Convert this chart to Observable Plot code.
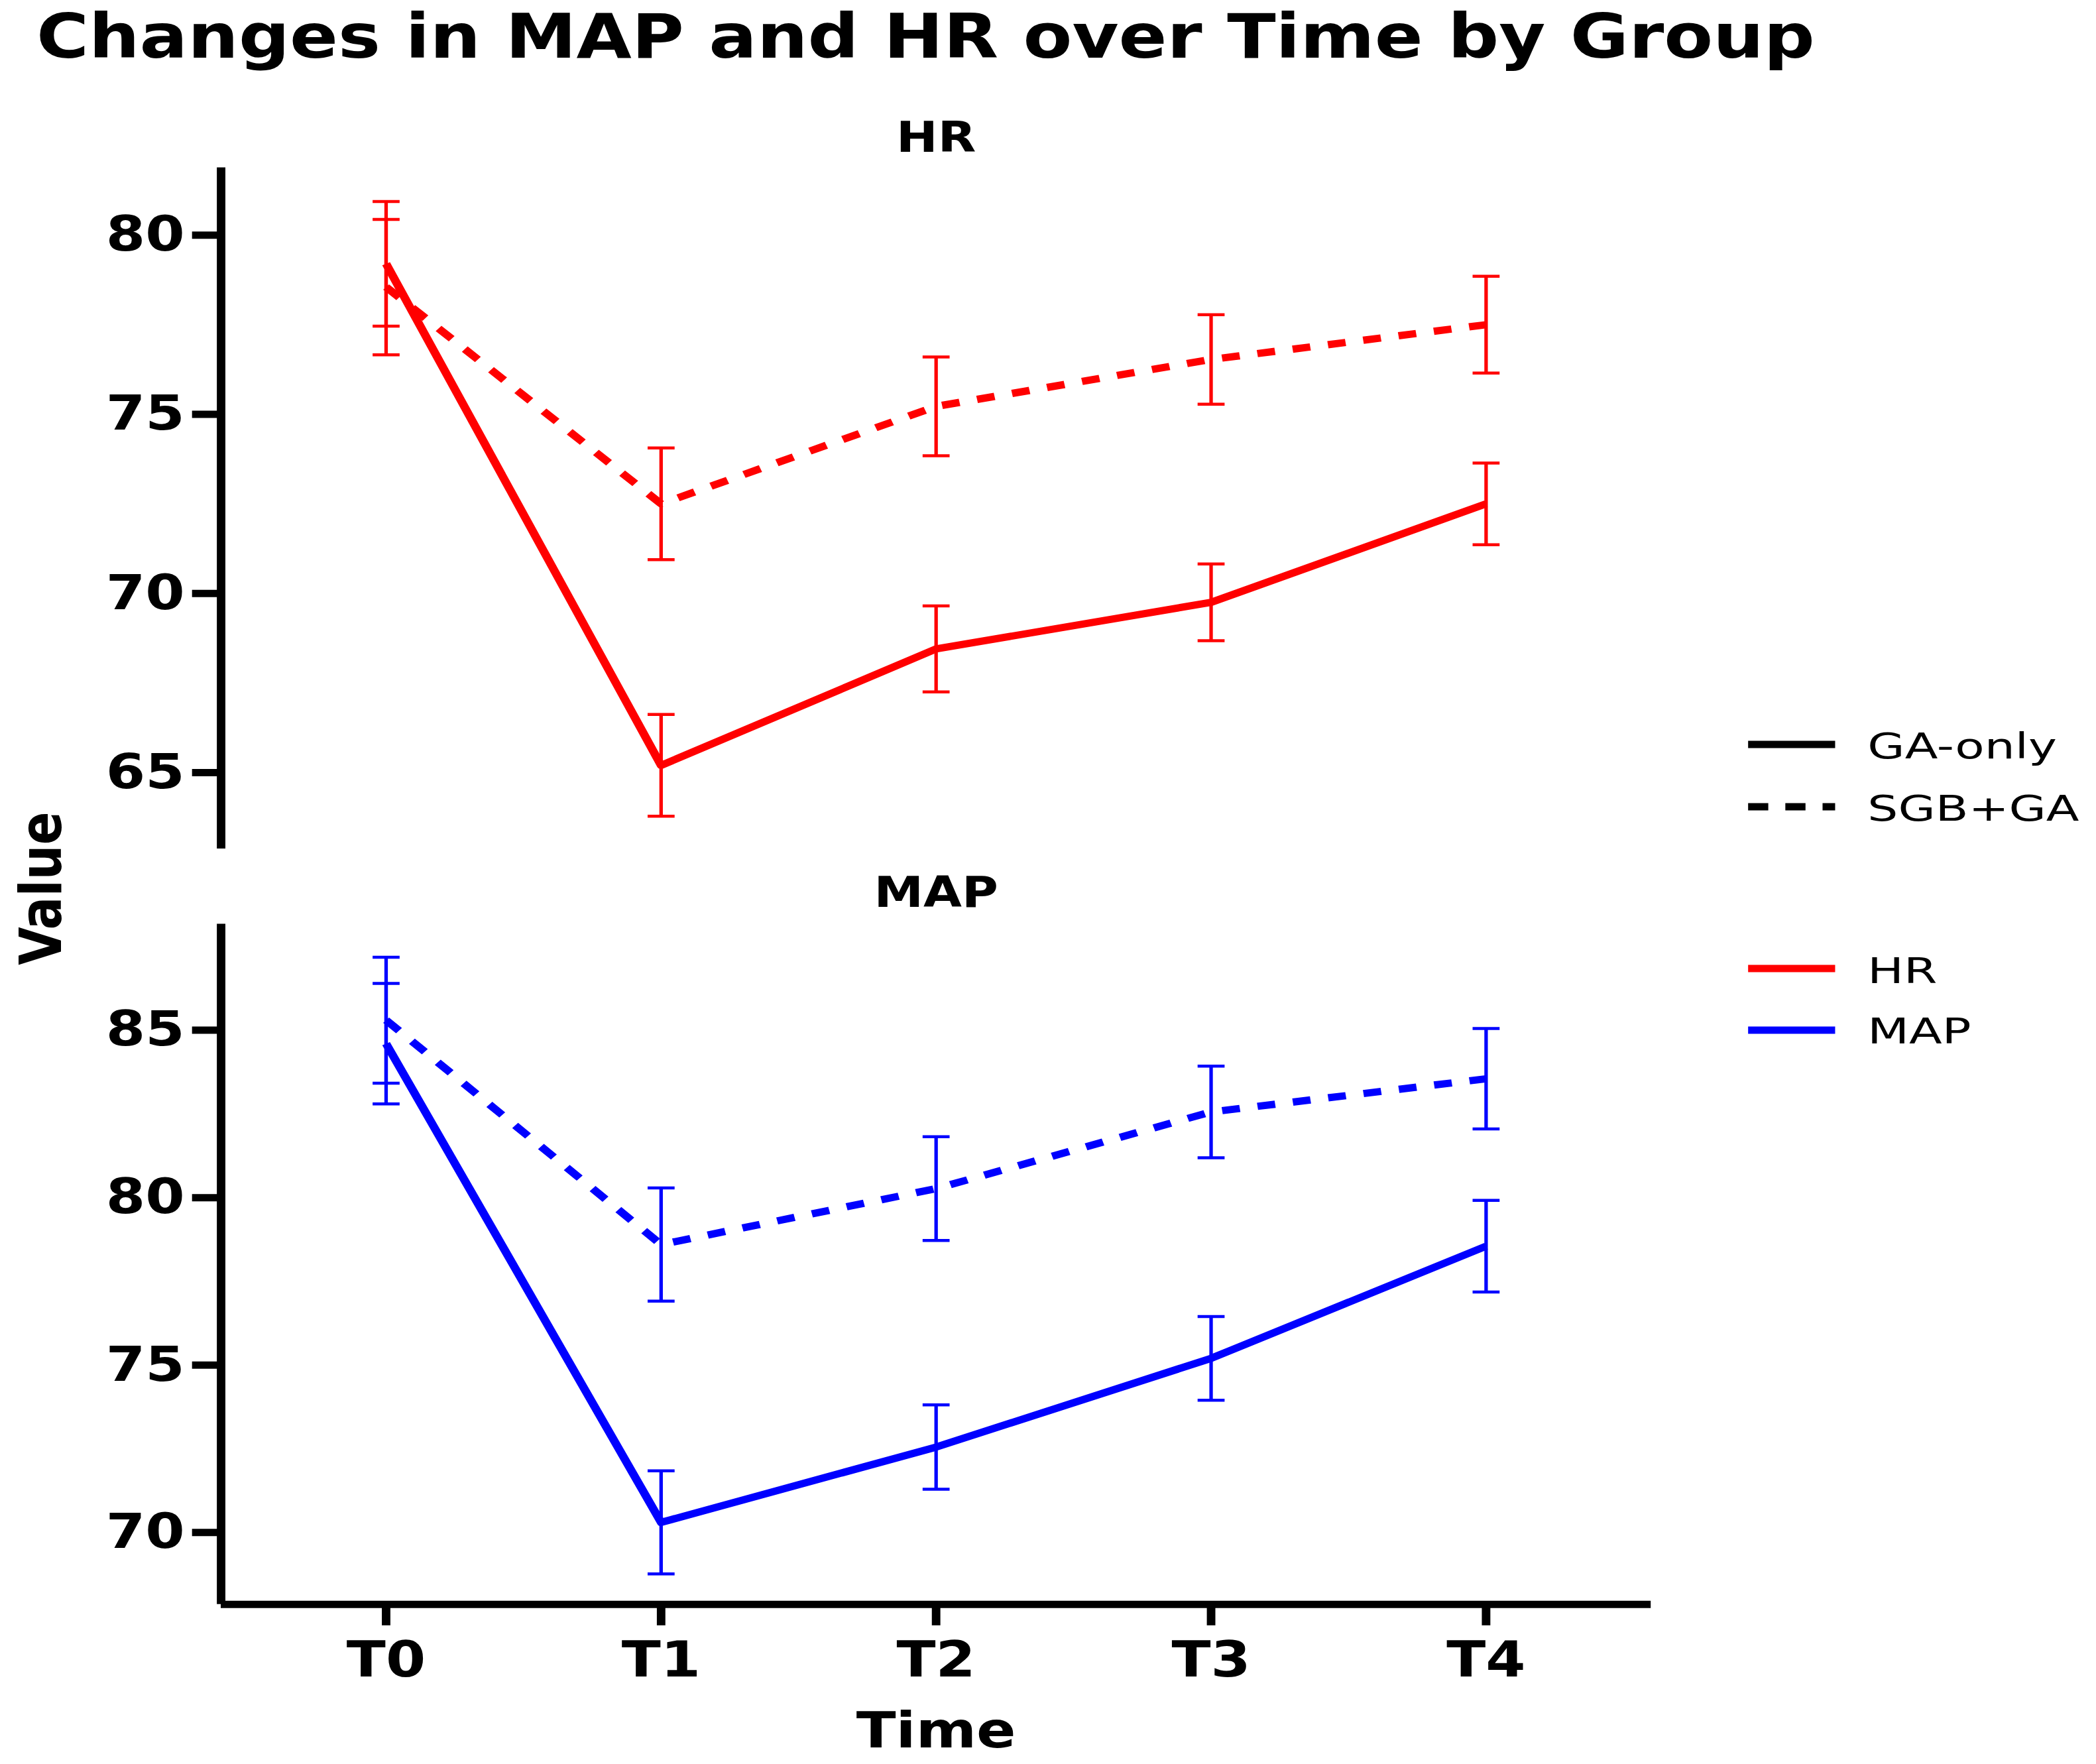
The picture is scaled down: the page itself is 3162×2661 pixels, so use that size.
<!DOCTYPE html>
<html>
<head>
<meta charset="utf-8">
<script src="https://cdn.jsdelivr.net/npm/d3@7"></script>
<script src="https://cdn.jsdelivr.net/npm/@observablehq/plot@0.6"></script>
<style>
  html, body { margin: 0; padding: 0; background: #fff; overflow: hidden; }
  #stage { position: absolute; left: 0; top: 0; width: 2703px; height: 2661px;
           transform: scale(1.17, 1); transform-origin: 0 0; font-family: "DejaVu Sans", sans-serif; }
  .abs { position: absolute; white-space: nowrap; line-height: 1; }
</style>
</head>
<body>
<div id="stage">
  <div id="top" class="abs" style="left:0; top:150px;"></div>
  <div id="bottom" class="abs" style="left:0; top:1300px;"></div>
</div>
<script>
// ---------- data ----------
const timePoints = ["T0", "T1", "T2", "T3", "T4"];
const groups = ["GA-only", "SGB+GA"];
const measures = ["HR", "MAP"];

const hrGAonly     = [79.2, 65.2, 68.45, 69.75, 72.5];
const hrGAonlyErr  = [1.74, 1.42, 1.2, 1.07, 1.14];
const hrSGBGA      = [78.55, 72.5, 75.22, 76.53, 77.5];
const hrSGBGAErr   = [1.89, 1.56, 1.38, 1.25, 1.35];

const mapGAonly    = [84.6, 70.3, 72.55, 75.2, 78.55];
const mapGAonlyErr = [1.8, 1.54, 1.26, 1.25, 1.37];
const mapSGBGA     = [85.3, 78.6, 80.27, 82.56, 83.55];
const mapSGBGAErr  = [1.88, 1.69, 1.55, 1.37, 1.5];

const hrTicks  = [65, 70, 75, 80];
const mapTicks = [70, 75, 80, 85];

// ---------- helpers ----------
function makeRows(ga, gaErr, sgb, sgbErr) {
  return [
    ...timePoints.map((time, i) => ({t: i, time, group: groups[0], mean: ga[i], err: gaErr[i]})),
    ...timePoints.map((time, i) => ({t: i, time, group: groups[1], mean: sgb[i], err: sgbErr[i]}))
  ];
}
const capHalf = 17.4;
const capSymbol = { draw(ctx) { ctx.moveTo(-capHalf, 0); ctx.lineTo(capHalf, 0); } };
const xDomain = [-0.6, 4.6];
const axisW = 11;

function panel({rows, color, yDomain, ticks, title, titleDy, showX, height, marginTop, marginBottom}) {
  const ga = rows.filter(d => d.group === groups[0]);
  const sgb = rows.filter(d => d.group === groups[1]);
  const marks = [
    Plot.ruleX(rows, {x: "t", y1: d => d.mean - d.err, y2: d => d.mean + d.err, stroke: color, strokeWidth: 4.5}),
    Plot.dot(rows, {x: "t", y: d => d.mean - d.err, symbol: capSymbol, stroke: color, fill: "none", strokeWidth: 4.5}),
    Plot.dot(rows, {x: "t", y: d => d.mean + d.err, symbol: capSymbol, stroke: color, fill: "none", strokeWidth: 4.5}),
    Plot.line(ga, {x: "t", y: "mean", stroke: color, strokeWidth: 11, strokeLinecap: "butt"}),
    Plot.line(sgb, {x: "t", y: "mean", stroke: color, strokeWidth: 11, strokeDasharray: "23,23", strokeLinecap: "butt"}),
    Plot.ruleX([xDomain[0]], {stroke: "black", strokeWidth: axisW}),
    Plot.axisY({ticks, tickSize: 37, tickPadding: 10, fontSize: 73, fontWeight: "bold", strokeWidth: axisW, stroke: "black", fill: "black", label: null}),
    Plot.text([title], {frameAnchor: "top", dy: titleDy, lineAnchor: "bottom", fontSize: 64, fontWeight: "bold", fill: "black"})
  ];
  if (showX) {
    marks.push(
      Plot.ruleY([yDomain[0]], {stroke: "black", strokeWidth: axisW}),
      Plot.axisX({ticks: timePoints.map((_, i) => i), tickFormat: i => timePoints[i], tickSize: 32, tickPadding: 24,
                  fontSize: 74, fontWeight: "bold", strokeWidth: axisW, stroke: "black", fill: "black", label: null}),
      Plot.text(["Time"], {frameAnchor: "bottom", dy: 215.2, lineAnchor: "bottom", fontSize: 75, fontWeight: "bold", fill: "black"})
    );
  }
  return Plot.plot({
    width: 2150, height, marginLeft: 284.6, marginRight: 21.6, marginTop, marginBottom,
    x: {domain: xDomain, axis: showX ? undefined : null},
    y: {domain: yDomain},
    style: {fontFamily: "DejaVu Sans", overflow: "visible", background: "transparent"},
    marks
  });
}

document.getElementById("top").appendChild(panel({
  rows: makeRows(hrGAonly, hrGAonlyErr, hrSGBGA, hrSGBGAErr), color: "#ff0000",
  yDomain: [62.87, 81.88], ticks: hrTicks, title: measures[0], titleDy: -24.3, showX: false,
  height: 1140, marginTop: 102.6, marginBottom: 10
}));
document.getElementById("bottom").appendChild(panel({
  rows: makeRows(mapGAonly, mapGAonlyErr, mapSGBGA, mapSGBGAErr), color: "#0000ff",
  yDomain: [67.85, 88.17], ticks: mapTicks, title: measures[1], titleDy: -26.5, showX: true,
  height: 1361, marginTop: 93.5, marginBottom: 241.2
}));

// ---------- title, y label, legend (HTML) ----------
const stage = document.getElementById("stage");
function addText(txt, css) {
  const d = document.createElement("div");
  d.className = "abs"; d.textContent = txt; d.style.cssText += css;
  stage.appendChild(d); return d;
}
addText("Changes in MAP and HR over Time by Group", "left:47px; top:9.5px; font-size:92px; font-weight:bold; color:#000;");
addText("Value", "left:52.8px; top:1340px; font-size:74px; font-weight:bold; color:#000; transform: translate(-50%,-50%) rotate(-90deg);");

const legendItems = [
  {label: groups[0], color: "#000", dash: null, cy: 1122.7, base: 1143.8},
  {label: groups[1], color: "#000", dash: "26,22", cy: 1216.5, base: 1237.5},
  {label: measures[0], color: "#ff0000", dash: null, cy: 1461.4, base: 1482.4},
  {label: measures[1], color: "#0000ff", dash: null, cy: 1554.4, base: 1574.3}
];
const ns = "http://www.w3.org/2000/svg";
legendItems.forEach(it => {
  const svg = document.createElementNS(ns, "svg");
  svg.setAttribute("width", 112.2); svg.setAttribute("height", 24);
  svg.style.cssText = `position:absolute; left:2253.6px; top:${it.cy - 12}px; overflow:visible;`;
  const ln = document.createElementNS(ns, "line");
  ln.setAttribute("x1", 0); ln.setAttribute("x2", 112.2); ln.setAttribute("y1", 12); ln.setAttribute("y2", 12);
  ln.setAttribute("stroke", it.color); ln.setAttribute("stroke-width", 11);
  if (it.dash) ln.setAttribute("stroke-dasharray", it.dash);
  svg.appendChild(ln); stage.appendChild(svg);
  addText(it.label, `left:2408px; top:${it.base - 0.846 * 53}px; font-size:54px; color:#000; transform: scaleX(1.15); transform-origin: 0 0;`);
});
</script>
</body>
</html>
